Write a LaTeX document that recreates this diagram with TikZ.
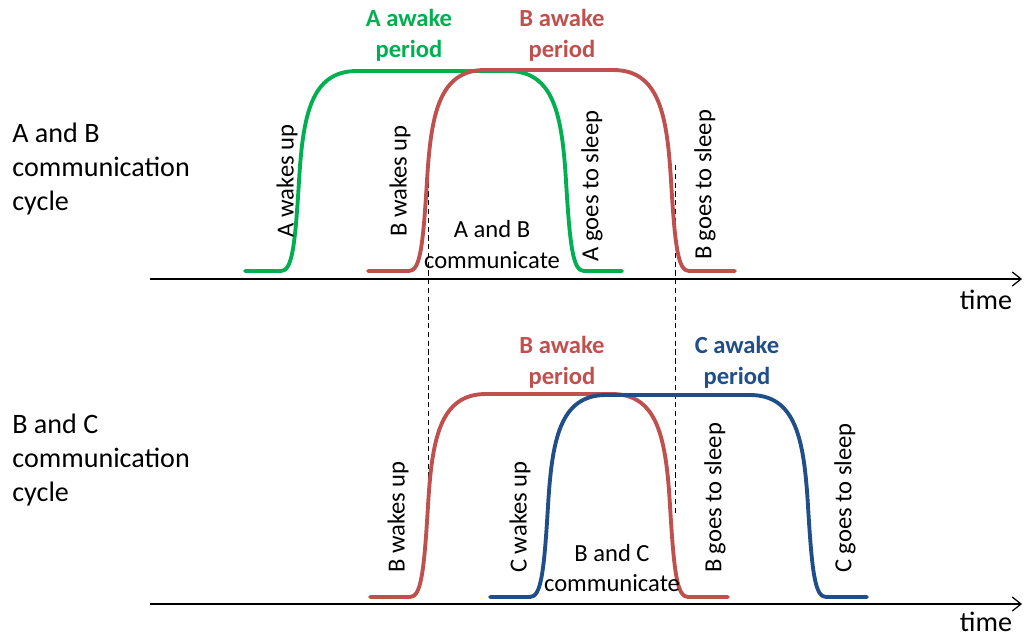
\documentclass[tikz,border=0pt]{standalone}
\usepackage{fontspec}
\setmainfont{Carlito}
\usetikzlibrary{arrows.meta,positioning}
\definecolor{awake}{HTML}{00B050}
\definecolor{bawake}{HTML}{C0504D}
\definecolor{cawake}{HTML}{1F4E88}
\definecolor{ink}{HTML}{000000}
\tikzset{
  x=0.02cm, y=-0.02cm,
  every node/.style={text=ink,inner sep=0pt},
  axis/.style={-{Straight Barb[length=5pt,width=8pt]},line width=0.7pt,draw=ink},
  guide/.style={densely dashed,line width=0.45pt,draw=ink},
  pulse/.style={line width=2.2pt,line join=round,line cap=round},
  cyclelbl/.style={font=\fontsize{16}{19.4}\selectfont,align=left,anchor=west},
  timelbl/.style={font=\fontsize{16}{19.4}\selectfont},
  edgelbl/.style={font=\fontsize{14}{17.6}\selectfont,rotate=90},
  commlbl/.style={font=\fontsize{14}{17.6}\selectfont,align=center},
  period/.style={font=\fontsize{14}{17.6}\selectfont\bfseries,align=center},
}
% pulse: style, start, rise x, fall x, end, low y, high y
\newcommand{\pulse}[7]{%
  \draw[pulse,#1] (#2,#6) -- ({#3-18},#6)
    .. controls ({#3-7},#6) and ({#3-4},{#6-0.12*(#6-#7)}) .. ({#3},{#6-0.45*(#6-#7)})
    .. controls ({#3+4},{#6-0.78*(#6-#7)}) and ({#3+12},#7) .. ({#3+58},#7)
    -- ({#4-58},#7)
    .. controls ({#4-12},#7) and ({#4-4},{#6-0.78*(#6-#7)}) .. ({#4},{#6-0.45*(#6-#7)})
    .. controls ({#4+4},{#6-0.12*(#6-#7)}) and ({#4+7},#6) .. ({#4+18},#6) -- (#5,#6);}

\begin{document}
\begin{tikzpicture}
\useasboundingbox (0,0) rectangle (1024,637);

% time axes
\coordinate (ab0) at (150,279);
\coordinate (ab1) at (1022,279);
\coordinate (bc0) at (150,604);
\coordinate (bc1) at (1022,604);
\draw[axis] (ab0) -- (ab1);
\draw[axis] (bc0) -- (bc1);
\node[timelbl] (abtime) at (986,300) {time};
\node[timelbl] (bctime) at (986,622) {time};

% cycle labels
\node[cyclelbl] (abcycle) at (12,169) {A and B\\communication\\cycle};
\node[cyclelbl] (bccycle) at (12,460) {B and C\\communication\\cycle};

% overlap guides
\coordinate (gl0) at (428,165);
\coordinate (gl1) at (428,516);
\coordinate (gr0) at (675,165);
\coordinate (gr1) at (675,516);
\draw[guide] (gl0) -- (gl1);
\draw[guide] (gr0) -- (gr1);

% A and B cycle
\pulse{awake}{245}{299}{566}{622}{271}{71}
\pulse{bawake}{368}{427}{671}{735}{271}{70}
\node[period,text=awake] (aper) at (409,35) {A awake\\period};
\node[period,text=bawake] (bper) at (562,35) {B awake\\period};
\node[edgelbl] (awake) at (287,181) {A wakes up};
\node[edgelbl] (bwake) at (400,181) {B wakes up};
\node[edgelbl] (asleep) at (592,186) {A goes to sleep};
\node[edgelbl] (bsleep) at (705,185) {B goes to sleep};
\node[commlbl] (abcomm) at (492,245) {A and B\\communicate};

% B and C cycle
\pulse{bawake}{370}{428}{670}{728}{597}{394}
\pulse{cawake}{490}{548}{808}{867}{597}{395}
\node[period,text=bawake] (bper2) at (562,362) {B awake\\period};
\node[period,text=cawake] (cper) at (737,362) {C awake\\period};
\node[edgelbl] (bwake2) at (398,517) {B wakes up};
\node[edgelbl] (cwake) at (520,517) {C wakes up};
\node[edgelbl] (bsleep2) at (715,498) {B goes to sleep};
\node[edgelbl] (csleep) at (845,498) {C goes to sleep};
\node[commlbl] (bccomm) at (612,568) {B and C\\communicate};

\end{tikzpicture}
\end{document}
